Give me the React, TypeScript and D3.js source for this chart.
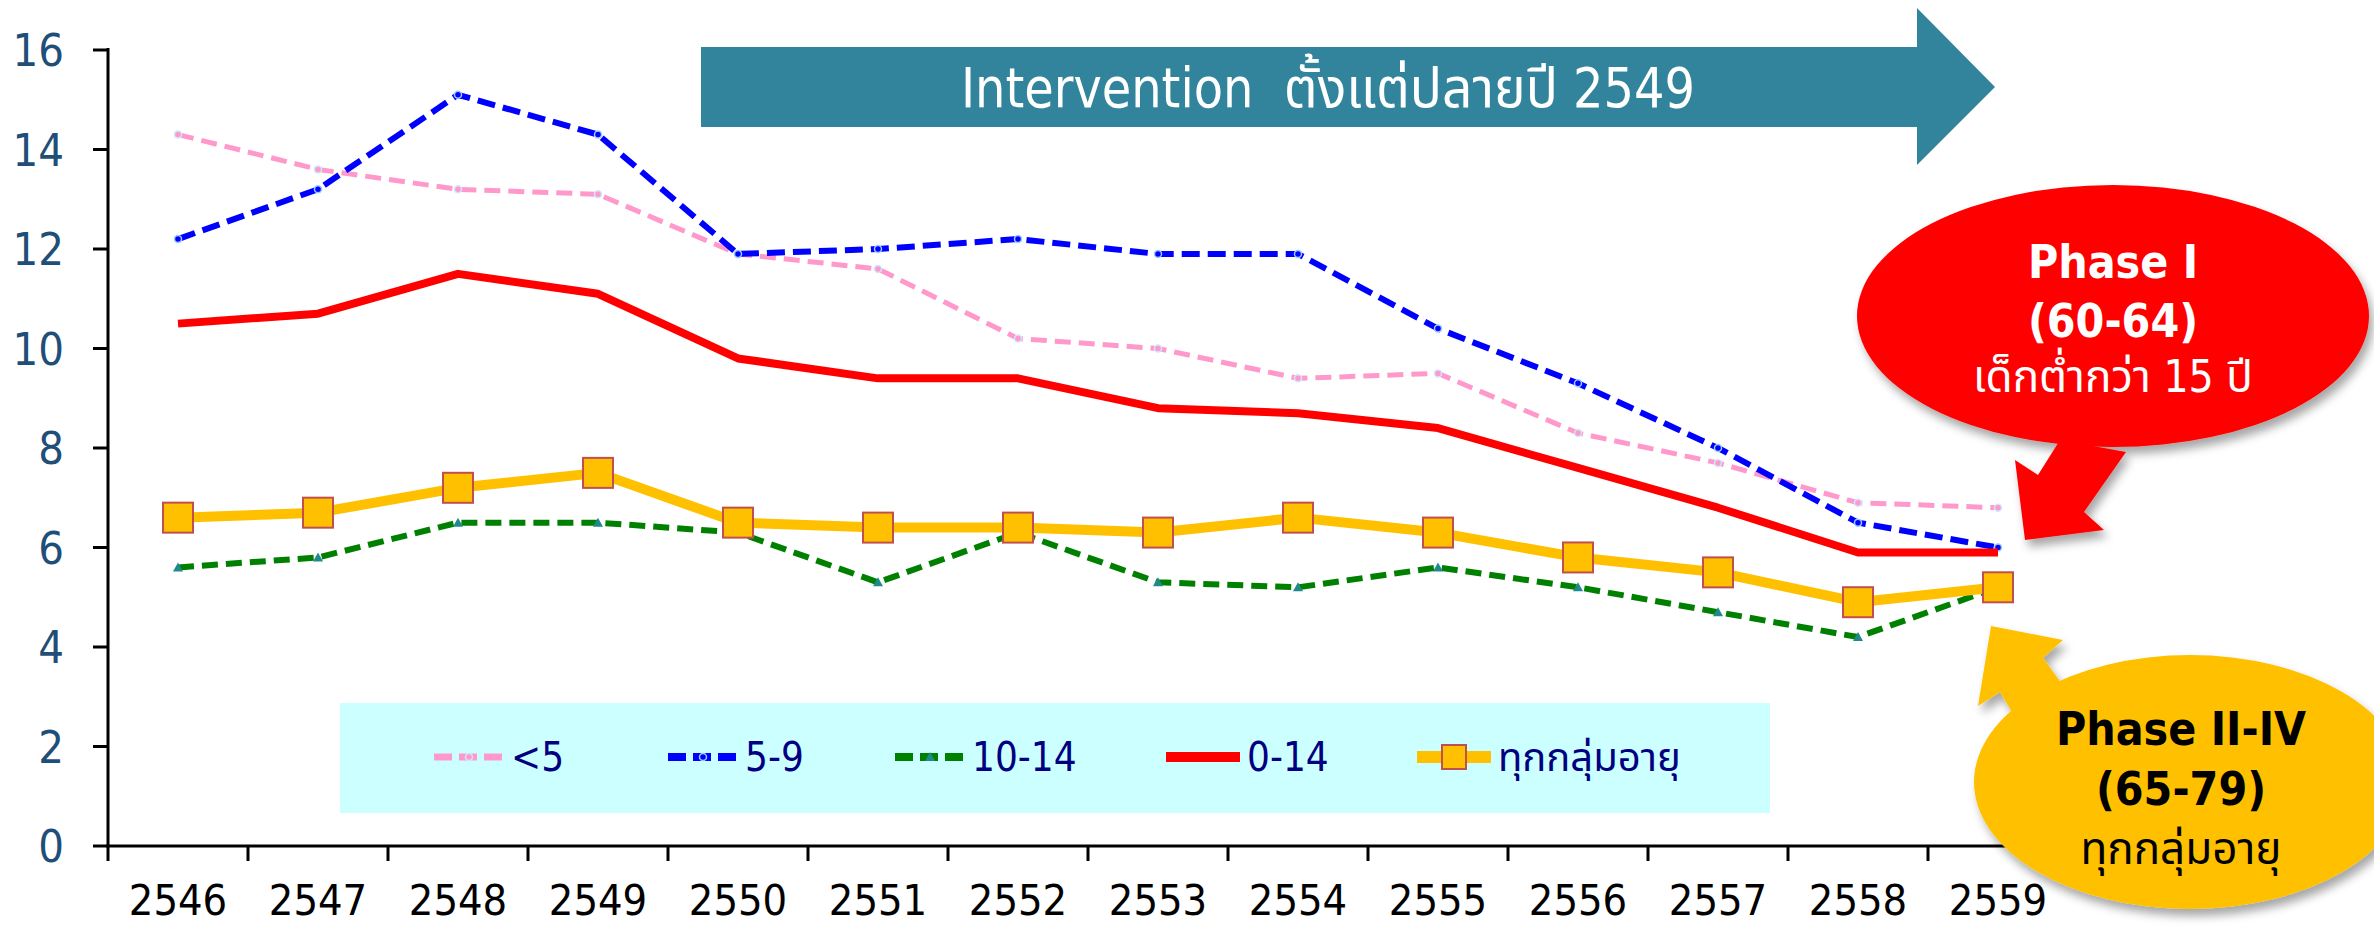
import React from 'react';
import * as d3 from 'd3';

const years = ['2546','2547','2548','2549','2550','2551','2552','2553','2554','2555','2556','2557','2558','2559'];
const under5 = [14.3, 13.6, 13.2, 13.1, 11.9, 11.6, 10.2, 10.0, 9.4, 9.5, 8.3, 7.7, 6.9, 6.8];
const age5to9 = [12.2, 13.2, 15.1, 14.3, 11.9, 12.0, 12.2, 11.9, 11.9, 10.4, 9.3, 8.0, 6.5, 6.0];
const age10to14 = [5.6, 5.8, 6.5, 6.5, 6.3, 5.3, 6.3, 5.3, 5.2, 5.6, 5.2, 4.7, 4.2, 5.2];
const age0to14 = [10.5, 10.7, 11.5, 11.1, 9.8, 9.4, 9.4, 8.8, 8.7, 8.4, 7.6, 6.8, 5.9, 5.9];
const allAges = [6.6, 6.7, 7.2, 7.5, 6.5, 6.4, 6.4, 6.3, 6.6, 6.3, 5.8, 5.5, 4.9, 5.2];
const yTicks = [0, 2, 4, 6, 8, 10, 12, 14, 16];
const seriesNames = ['<5', '5-9', '10-14', '0-14', 'ทุกกลุ่มอายุ'];

const W = 2374, H = 927;
const FONT = "'DejaVu Sans Condensed', 'Liberation Sans', 'Noto Sans Thai', Tahoma, sans-serif";

const styles = [
  { color: '#FF99CC', width: 5, dash: '16 8', marker: 'circle', mColor: '#FF99CC', mStroke: '#CCE8FF' },
  { color: '#0000FF', width: 6, dash: '18 8', marker: 'circle', mColor: '#0000FF', mStroke: '#99CCFF' },
  { color: '#008000', width: 6, dash: '16 8', marker: 'tri', mColor: '#1F8A8A', mStroke: '#1F8A8A' },
  { color: '#FF0000', width: 8, dash: null, marker: null },
  { color: '#FFC000', width: 10, dash: null, marker: 'square', mColor: '#FFC000', mStroke: '#C0504D' },
];

export default function App() {
  const x = d3.scaleBand<string>().domain(years).range([108, 2068]).padding(0);
  const y = d3.scaleLinear().domain([0, 16]).range([846, 50]);
  const cx = (i: number) => (x(years[i]) as number) + x.bandwidth() / 2;
  const data = [under5, age5to9, age10to14, age0to14, allAges];
  const line = d3.line<number>().x((_, i) => cx(i)).y(d => y(d));
  const boundaries = years.map(yr => x(yr) as number).concat([2068]);

  const legendX = [434, 668, 895, 1166, 1417];
  const legendLen = [70, 70, 70, 74, 74];
  const legendY = 757;

  const marker = (s: any, px: number, py: number, key: string) => {
    if (s.marker === 'square') {
      return <rect key={key} x={px - 15} y={py - 15} width={30} height={30} fill={s.mColor} stroke={s.mStroke} strokeWidth={2} />;
    }
    if (s.marker === 'circle') {
      return <circle key={key} cx={px} cy={py} r={3.5} fill={s.mColor} stroke={s.mStroke} strokeWidth={1.5} />;
    }
    if (s.marker === 'tri') {
      return <path key={key} d={`M${px},${py - 5}L${px + 5},${py + 4}L${px - 5},${py + 4}Z`} fill={s.mColor} />;
    }
    return null;
  };

  return (
    <svg width={W} height={H} style={{ position: 'absolute', left: 0, top: 0, background: '#fff' }} fontFamily={FONT}>
      <defs>
        <filter id="shadow" x="-20%" y="-20%" width="140%" height="150%">
          <feDropShadow dx="4" dy="7" stdDeviation="5" floodColor="#000" floodOpacity="0.35" />
        </filter>
      </defs>
      <rect x={0} y={0} width={W} height={H} fill="#fff" />

      {/* legend background */}
      <rect x={340} y={703} width={1430} height={110} fill="#CCFFFF" />

      {/* axes */}
      <line x1={108} y1={48} x2={108} y2={847} stroke="#000" strokeWidth={3} />
      <line x1={106} y1={846} x2={2068} y2={846} stroke="#000" strokeWidth={3} />
      {yTicks.map(t => (
        <g key={'yt' + t}>
          <line x1={93} x2={108} y1={y(t)} y2={y(t)} stroke="#000" strokeWidth={3} />
          <text x={64} y={y(t)} dy="0.36em" textAnchor="end" fontSize={45} fill="#1F4E79">{t}</text>
        </g>
      ))}
      {boundaries.map((b, i) => (
        <line key={'xt' + i} x1={b} x2={b} y1={846} y2={861} stroke="#000" strokeWidth={3} />
      ))}
      {years.map((yr, i) => (
        <text key={'xl' + yr} x={cx(i)} y={915} textAnchor="middle" fontSize={43} fill="#000">{yr}</text>
      ))}

      {/* series */}
      {[2, 0, 1, 3, 4].map(si => {
        const s = styles[si];
        return (
          <g key={'s' + si}>
            <path d={line(data[si]) as string} fill="none" stroke={s.color} strokeWidth={s.width}
              strokeDasharray={s.dash || undefined} strokeLinejoin="round" />
            {data[si].map((v, i) => marker(s, cx(i), y(v), `m${si}-${i}`))}
          </g>
        );
      })}

      {/* legend entries */}
      {seriesNames.map((name, i) => {
        const s = styles[i];
        const lx = legendX[i];
        return (
          <g key={'lg' + i}>
            <line x1={lx} x2={lx + legendLen[i]} y1={legendY} y2={legendY} stroke={s.color} strokeWidth={s.width + 2}
              strokeDasharray={s.dash ? '18 7' : undefined} />
            {s.marker === 'square' && (
              <rect x={lx + legendLen[i] / 2 - 12} y={legendY - 12} width={24} height={24} fill={s.mColor} stroke={s.mStroke} strokeWidth={2} />
            )}
            {(s.marker === 'circle' || s.marker === 'tri') && marker(s, lx + legendLen[i] / 2, legendY, 'lm' + i)}
            <text x={lx + legendLen[i] + 7} y={legendY + 14} fontSize={40} fill="#000080">{name}</text>
          </g>
        );
      })}

      {/* intervention arrow */}
      <path d="M701,47 L1917,47 L1917,8 L1995,87 L1917,165 L1917,127 L701,127 Z" fill="#31849B" />
      <text x={1328} y={107} textAnchor="middle" fontSize={56} fill="#fff" textLength={734} lengthAdjust="spacingAndGlyphs">{'Intervention\u00A0\u00A0ตั้งแต่ปลายปี 2549'}</text>

      {/* Phase I red callout */}
      <g filter="url(#shadow)">
        <ellipse cx={2113} cy={316} rx={256} ry={131} fill="#FF0000" />
        <path d="M2060,440 L2126,452 L2084,512 L2104,530 L2025,540 L2015,460 L2038,475 Z" fill="#FF0000" />
      </g>
      <text x={2113} y={278} textAnchor="middle" fontSize={46} fontWeight="bold" fill="#fff">Phase I</text>
      <text x={2113} y={337} textAnchor="middle" fontSize={46} fontWeight="bold" fill="#fff">(60-64)</text>
      <text x={2113} y={392} textAnchor="middle" fontSize={44} fill="#fff">เด็กต่ำกว่า 15 ปี</text>

      {/* Phase II-IV yellow callout */}
      <g filter="url(#shadow)">
        <ellipse cx={2190} cy={782} rx={216} ry={127} fill="#FFC000" />
        <path d="M2012,712 L2000,692 L1978,706 L1991,626 L2063,640 L2043,658 L2062,684 Z" fill="#FFC000" />
      </g>
      <text x={2181} y={745} textAnchor="middle" fontSize={46} fontWeight="bold" fill="#000">Phase II-IV</text>
      <text x={2181} y={805} textAnchor="middle" fontSize={46} fontWeight="bold" fill="#000">(65-79)</text>
      <text x={2181} y={864} textAnchor="middle" fontSize={44} fill="#000">ทุกกลุ่มอายุ</text>
    </svg>
  );
}
